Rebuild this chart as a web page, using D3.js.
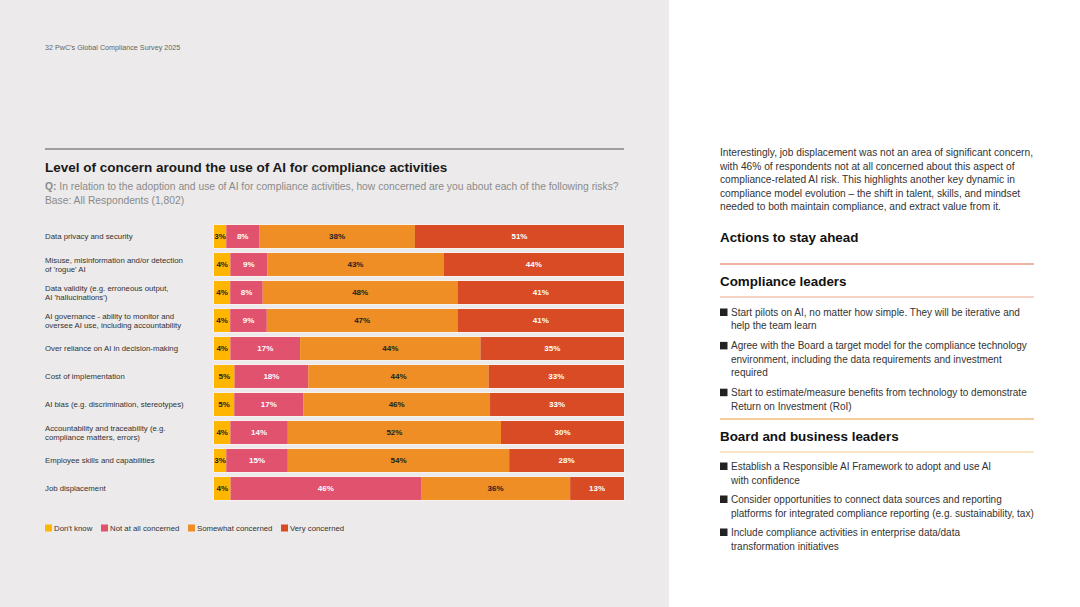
<!DOCTYPE html>
<html>
<head>
<meta charset="utf-8">
<script src="https://cdn.jsdelivr.net/npm/d3@7"></script>
<style>
  body { margin: 0; padding: 0; background: #fff; }
  svg { display: block; font-family: "Liberation Sans", Arial, sans-serif; }
</style>
</head>
<body>
<div id="chart"></div>
<script>
// data
var categories = [
  "Data privacy and security",
  "Misuse, misinformation and/or detection\nof 'rogue' AI",
  "Data validity (e.g. erroneous output,\nAI 'hallucinations')",
  "AI governance - ability to monitor and\noversee AI use, including accountability",
  "Over reliance on AI in decision-making",
  "Cost of implementation",
  "AI bias (e.g. discrimination, stereotypes)",
  "Accountability and traceability (e.g.\ncompliance matters, errors)",
  "Employee skills and capabilities",
  "Job displacement"
];
var seriesNames = ["Don't know", "Not at all concerned", "Somewhat concerned", "Very concerned"];
var dontKnow    = [3, 4, 4, 4, 4, 5, 5, 4, 3, 4];
var notAtAll    = [8, 9, 8, 9, 17, 18, 17, 14, 15, 46];
var somewhat    = [38, 43, 48, 47, 44, 44, 46, 52, 54, 36];
var very        = [51, 44, 41, 41, 35, 33, 33, 30, 28, 13];

var colors = ["#FFB600", "#E0526D", "#EE8E24", "#D84B24"];
var labelColors = ["#222", "#fff", "#222", "#fff"];

var svgWidth = 1080;
var svgHeight = 607;

var svg = d3.select("#chart")
  .append("svg")
  .attr("width", svgWidth)
  .attr("height", svgHeight);

// grey left page
svg.append("rect")
  .attr("x", 0).attr("y", 0)
  .attr("width", 669).attr("height", svgHeight)
  .attr("fill", "#ECEAEA");

svg.append("text")
  .attr("x", 45).attr("y", 49.5)
  .attr("font-size", 7.2)
  .attr("fill", "#666")
  .text("32  PwC's Global Compliance Survey 2025");

// top rule + titles
svg.append("line")
  .attr("x1", 45).attr("x2", 624)
  .attr("y1", 149).attr("y2", 149)
  .attr("stroke", "#555").attr("stroke-width", 1);

svg.append("text")
  .attr("x", 45).attr("y", 171.5)
  .attr("font-size", 13.5).attr("font-weight", "bold")
  .attr("fill", "#1a1a1a")
  .text("Level of concern around the use of AI for compliance activities");

var sub = svg.append("text")
  .attr("x", 45).attr("y", 190)
  .attr("font-size", 10.3)
  .attr("fill", "#8a8a8a");
sub.append("tspan").attr("font-weight", "bold").text("Q:");
sub.append("tspan").text(" In relation to the adoption and use of AI for compliance activities, how concerned are you about each of the following risks?");

svg.append("text")
  .attr("x", 45).attr("y", 203.5)
  .attr("font-size", 10.3)
  .attr("fill", "#8a8a8a")
  .text("Base: All Respondents (1,802)");

// build table for the stack
var rows = categories.map(function(c, i) {
  return {
    category: c,
    "Don't know": dontKnow[i],
    "Not at all concerned": notAtAll[i],
    "Somewhat concerned": somewhat[i],
    "Very concerned": very[i]
  };
});

var stacked = d3.stack()
  .keys(seriesNames)
  .offset(d3.stackOffsetExpand)(rows);

var xScale = d3.scaleLinear()
  .domain([0, 1])
  .range([214, 624]);

var yScale = d3.scaleBand()
  .domain(categories)
  .range([222.5, 502.5])
  .paddingInner(0.18)
  .paddingOuter(0.09);

var chartGroup = svg.append("g");

// light outline around each bar
chartGroup.selectAll(".outline")
  .data(categories)
  .enter()
  .append("rect")
  .attr("class", "outline")
  .attr("x", xScale(0) - 0.5)
  .attr("y", d => yScale(d) - 0.5)
  .attr("width", xScale(1) - xScale(0) + 1)
  .attr("height", yScale.bandwidth() + 1)
  .attr("fill", "none")
  .attr("stroke", "#F6F0EE")
  .attr("stroke-width", 1);

var layers = chartGroup.selectAll(".layer")
  .data(stacked)
  .enter()
  .append("g")
  .attr("class", "layer")
  .attr("fill", (d, i) => colors[i]);

layers.selectAll("rect")
  .data(d => d)
  .enter()
  .append("rect")
  .attr("x", d => xScale(d[0]))
  .attr("y", d => yScale(d.data.category))
  .attr("width", d => xScale(d[1]) - xScale(d[0]))
  .attr("height", yScale.bandwidth());

layers.each(function(layer, li) {
  d3.select(this).selectAll("text")
    .data(layer)
    .enter()
    .append("text")
    .attr("x", d => (xScale(d[0]) + xScale(d[1])) / 2)
    .attr("y", d => yScale(d.data.category) + yScale.bandwidth() / 2)
    .attr("dy", "0.35em")
    .attr("text-anchor", "middle")
    .attr("font-size", 8)
    .attr("font-weight", "bold")
    .attr("fill", labelColors[li])
    .text(d => d.data[layer.key] + "%");
});

// category labels on the left
chartGroup.selectAll(".cat")
  .data(categories)
  .enter()
  .append("text")
  .attr("class", "cat")
  .attr("font-size", 7.8)
  .attr("fill", "#333")
  .each(function(d) {
    var lines = d.split("\n");
    var cy = yScale(d) + yScale.bandwidth() / 2;
    var start = cy - (lines.length - 1) * 4.7;
    d3.select(this).selectAll("tspan")
      .data(lines)
      .enter()
      .append("tspan")
      .attr("x", 45)
      .attr("y", (l, j) => start + j * 9.4)
      .attr("dy", "0.35em")
      .text(l => l);
  });

// legend
var legendX = [45, 101, 188, 281];
var legend = svg.selectAll(".legend")
  .data(seriesNames)
  .enter()
  .append("g")
  .attr("class", "legend")
  .attr("transform", (d, i) => `translate(${legendX[i]}, 528)`);

legend.append("rect")
  .attr("x", 0).attr("y", -3.5)
  .attr("width", 7).attr("height", 7)
  .attr("fill", (d, i) => colors[i]);

legend.append("text")
  .attr("x", 9)
  .attr("dy", "0.35em")
  .attr("font-size", 7.8)
  .attr("fill", "#333")
  .text(d => d);

// right hand page
var paragraph = [
  "Interestingly, job displacement was not an area of significant concern,",
  "with 46% of respondents not at all concerned about this aspect of",
  "compliance-related AI risk. This highlights another key dynamic in",
  "compliance model evolution \u2013 the shift in talent, skills, and mindset",
  "needed to both maintain compliance, and extract value from it."
];
var right = svg.append("g");

right.selectAll(".para")
  .data(paragraph)
  .enter()
  .append("text")
  .attr("class", "para")
  .attr("x", 720)
  .attr("y", (d, i) => 156 + i * 13.6)
  .attr("font-size", 10.2)
  .attr("fill", "#333")
  .text(d => d);

function heading(txt, y) {
  right.append("text")
    .attr("x", 720).attr("y", y)
    .attr("font-size", 13.4).attr("font-weight", "bold")
    .attr("fill", "#111")
    .text(txt);
}
function rule(y, color) {
  right.append("line")
    .attr("x1", 720).attr("x2", 1034)
    .attr("y1", y).attr("y2", y)
    .attr("stroke", color).attr("stroke-width", 1.2);
}
function bullets(items, y0, pitch, gap) {
  var y = y0;
  items.forEach(function(lines) {
    right.append("rect")
      .attr("x", 720).attr("y", y - 7.5)
      .attr("width", 7.5).attr("height", 7.5)
      .attr("fill", "#222");
    lines.forEach(function(l, j) {
      right.append("text")
        .attr("x", 731).attr("y", y + j * pitch)
        .attr("font-size", 10)
        .attr("fill", "#333")
        .text(l);
    });
    y += lines.length * pitch + gap;
  });
}

heading("Actions to stay ahead", 242);
rule(264, "#E06C47");
heading("Compliance leaders", 286);
rule(297, "#ECA98C");
bullets([
  ["Start pilots on AI, no matter how simple.  They will be iterative and", "help the team learn"],
  ["Agree with the Board a target model for the compliance technology", "environment, including the data requirements and investment", "required"],
  ["Start to estimate/measure benefits from technology to demonstrate", "Return on Investment (RoI)"]
], 316, 13.4, 6.6);
rule(419, "#E99C3E");
heading("Board and business leaders", 441);
rule(452, "#F3CB8B");
bullets([
  ["Establish a Responsible AI Framework to adopt and use AI", "with confidence"],
  ["Consider opportunities to connect data sources and reporting", "platforms for integrated compliance reporting (e.g. sustainability, tax)"],
  ["Include compliance activities in enterprise data/data", "transformation initiatives"]
], 470, 13.7, 5.6);
</script>
</body>
</html>
